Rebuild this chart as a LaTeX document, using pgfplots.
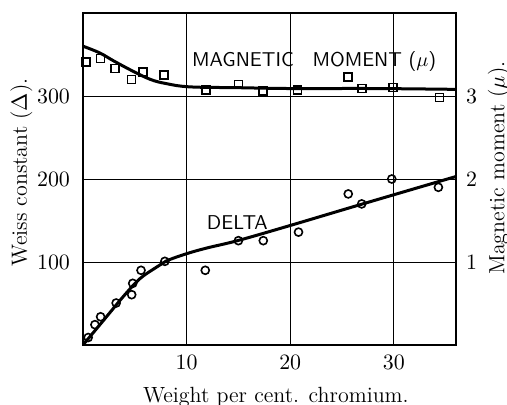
\documentclass[border=0pt]{standalone}
\usepackage{pgfplots}
\pgfplotsset{compat=1.18}
\begin{document}
\begin{tikzpicture}
\useasboundingbox (-41.5pt,-30pt) rectangle (212pt,172.5pt);
\pgfplotsset{
  every tick label/.append style={font=\fontsize{11}{13}\selectfont},
  every axis label/.append style={font=\fontsize{11}{13}\selectfont},
}
\begin{axis}[
  at={(0,0)}, anchor=south west,
  scale only axis, width=186.5pt, height=166pt,
  xmin=0, xmax=36, ymin=0, ymax=400,
  xtick={10,20,30}, ytick={100,200,300},
  xtick pos=bottom, ytick pos=left,
  major tick length=0pt,
  grid=major,
  major grid style={black, line width=0.45pt},
  axis line style={black, line width=1pt},
  xticklabel style={yshift=-1.5pt},
  yticklabel style={xshift=-3pt},
  xlabel={Weight per cent. chromium.},
  ylabel={Weiss constant ($\Delta$).},
  xlabel style={at={(axis description cs:0.517,-0.157)}, anchor=center},
  ylabel style={at={(axis description cs:-0.165,0.52)}, anchor=center},
  clip=false,
]
% Magnetic moment smooth curve
\addplot[black, line width=1.5pt, smooth, tension=0.6] coordinates {
  (0,360) (1.6,352) (3,342) (4.8,330) (6.5,320) (8,315) (10.3,311) (15,310) (20,309) (28,309) (36,308)
};
% Magnetic moment data (squares)
\addplot[only marks, mark=square, mark size=2pt, mark options={black, line width=0.8pt, fill=white}] coordinates {
  (0.3,341) (1.7,345) (3.1,333) (4.7,320) (5.8,329) (7.8,325) (11.9,307) (15,314) (17.4,306) (20.7,307)
  (25.6,323) (26.9,309) (29.9,310) (34.4,298)
};
% Delta smooth curve
\addplot[black, line width=1.5pt, smooth, tension=0.6] coordinates {
  (0,0) (2,30) (4,60) (5.5,80) (7,93) (8,101) (10,110) (12,117) (15,126) (20,144) (27,170) (36,203)
};
% Delta data (circles)
\addplot[only marks, mark=o, mark size=2pt, mark options={black, line width=0.8pt, fill=white}] coordinates {
  (0.5,9) (1.15,24.5) (1.7,34) (3.2,50.6) (4.7,60.6) (4.8,74.3) (5.6,90) (7.9,100.8) (11.8,90)
  (15,125.7) (17.4,125.7) (20.8,136) (25.6,182) (26.9,170) (29.8,200) (34.3,190)
};
\node[anchor=west, font=\sffamily\fontsize{10}{12}\selectfont, inner sep=0pt] at (axis cs:10.5,341) {MAGNETIC\hspace{6pt} MOMENT ($\mu$)};
\node[anchor=center, font=\sffamily\fontsize{10}{12}\selectfont, inner sep=0pt] at (axis cs:14.9,148) {DELTA};
\end{axis}
\begin{axis}[
  at={(0,0)}, anchor=south west,
  scale only axis, width=186.5pt, height=166pt,
  xmin=0, xmax=36, ymin=0, ymax=4,
  axis x line=none,
  axis y line*=right,
  ytick={1,2,3},
  major tick length=0pt,
  axis line style={black, line width=1pt},
  yticklabel style={xshift=1.5pt},
  ylabel={Magnetic moment ($\mu$).},
  ylabel style={at={(axis description cs:1.115,0.533)}, anchor=center},
]
\addplot[draw=none] coordinates {(0,0)};
\end{axis}
\end{tikzpicture}
\end{document}
